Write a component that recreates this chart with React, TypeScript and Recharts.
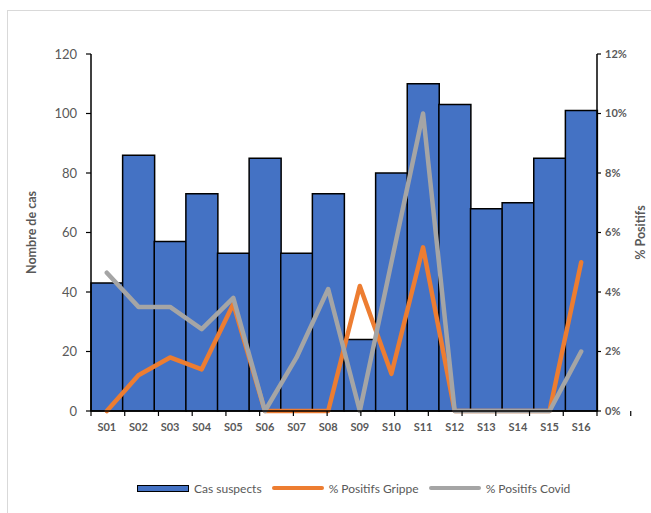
import React from 'react';
import {
  ComposedChart,
  Bar,
  Line,
  XAxis,
  YAxis,
} from 'recharts';

const weeks = ['S01', 'S02', 'S03', 'S04', 'S05', 'S06', 'S07', 'S08', 'S09', 'S10', 'S11', 'S12', 'S13', 'S14', 'S15', 'S16'];
const suspectCases = [43, 86, 57, 73, 53, 85, 53, 73, 24, 80, 110, 103, 68, 70, 85, 101];
const fluPositive = [0, 1.2, 1.8, 1.4, 3.6, 0, 0, 0, 4.2, 1.25, 5.5, 0, 0, 0, 0, 5.0];
const covidPositive = [4.65, 3.5, 3.5, 2.75, 3.8, 0, 1.8, 4.1, 0, 5.0, 10.0, 0, 0, 0, 0, 2.0];
const leftTicks = [0, 20, 40, 60, 80, 100, 120];
const rightTicks = [0, 2, 4, 6, 8, 10, 12];
const edgeTicks = weeks.map((_, i) => i).concat(weeks.length);

const BLUE = '#4472C4';
const ORANGE = '#ED7D31';
const GREY = '#A5A5A5';
const TEXT = '#595959';
const FONT = 'Lato, "Open Sans", sans-serif';

const chartData = weeks.map((week, i) => ({
  week,
  cases: suspectCases[i],
  flu: fluPositive[i],
  covid: covidPositive[i],
}));

const legendItems = [
  { label: 'Cas suspects', color: BLUE, kind: 'bar' },
  { label: '% Positifs Grippe', color: ORANGE, kind: 'line' },
  { label: '% Positifs Covid', color: GREY, kind: 'line' },
];

function AxisTitle({ viewBox, value, dx }: any) {
  const cx = viewBox.x + dx;
  const cy = viewBox.y + viewBox.height / 2;
  return (
    <text
      x={cx}
      y={cy}
      transform={`rotate(-90, ${cx}, ${cy})`}
      textAnchor="middle"
      dominantBaseline="central"
      fill={TEXT}
      fontSize={12.5}
      fontWeight="bold"
      fontFamily={FONT}
    >
      {value}
    </text>
  );
}

export default function App() {
  return (
    <div
      style={{
        position: 'absolute',
        left: 0,
        top: 0,
        width: 651,
        height: 513,
        overflow: 'hidden',
        background: '#fff',
        fontFamily: FONT,
      }}
    >
      {/* chart area frame, only top and left edges fall inside the picture */}
      <div
        style={{
          position: 'absolute',
          left: 7,
          top: 10,
          width: 700,
          height: 600,
          borderLeft: '1px solid #d9d9d9',
          borderTop: '1px solid #d9d9d9',
        }}
      />
      <div style={{ position: 'absolute', left: 0, top: 0 }}>
        <ComposedChart
          width={651}
          height={513}
          data={chartData}
          margin={{ top: 54, right: 0, bottom: 72, left: 0 }}
          barCategoryGap={0}
          barGap={0}
        >
          <XAxis
            xAxisId="b-cat"
            dataKey="week"
            height={24}
            axisLine={false}
            tickLine={false}
            tickSize={0}
            tickMargin={6}
            interval={0}
            tick={{ fill: TEXT, fontSize: 11, fontWeight: 'bold', fontFamily: FONT }}
          />
          {/* boundary ticks between weeks, as Excel draws them */}
          <XAxis
            xAxisId="a-edges"
            type="number"
            domain={[0, 16]}
            ticks={edgeTicks}
            allowDataOverflow
            height={6}
            tickSize={5}
            tickFormatter={() => ''}
            axisLine={{ stroke: '#000', strokeWidth: 1.5 }}
            tickLine={{ stroke: '#000', strokeWidth: 1.2 }}
          />
          <YAxis
            yAxisId="left"
            domain={[0, 120]}
            ticks={leftTicks}
            width={91}
            tickSize={5}
            tickMargin={9}
            axisLine={{ stroke: '#000', strokeWidth: 1.5 }}
            tickLine={{ stroke: '#000', strokeWidth: 1.2 }}
            tick={{ fill: TEXT, fontSize: 13, fontFamily: FONT }}
            label={(props: any) => <AxisTitle {...props} value="Nombre de cas" dx={31} />}
          />
          <YAxis
            yAxisId="right"
            orientation="right"
            domain={[0, 12]}
            ticks={rightTicks}
            width={54}
            tickSize={4}
            tickMargin={4}
            tickFormatter={(v) => `${v}%`}
            axisLine={{ stroke: '#000', strokeWidth: 1.5 }}
            tickLine={{ stroke: '#000', strokeWidth: 1.2 }}
            tick={{ fill: TEXT, fontSize: 11, fontWeight: 'bold', fontFamily: FONT }}
            label={(props: any) => <AxisTitle {...props} value="% Positifs" dx={43} />}
          />
          <Bar
            xAxisId="b-cat"
            yAxisId="left"
            dataKey="cases"
            name="Cas suspects"
            fill={BLUE}
            stroke="#000"
            strokeWidth={1.5}
            isAnimationActive={false}
          />
          <Line
            xAxisId="b-cat"
            yAxisId="right"
            dataKey="flu"
            name="% Positifs Grippe"
            stroke={ORANGE}
            strokeWidth={4.5}
            strokeLinejoin="round"
            strokeLinecap="round"
            dot={false}
            activeDot={false}
            isAnimationActive={false}
          />
          <Line
            xAxisId="b-cat"
            yAxisId="right"
            dataKey="covid"
            name="% Positifs Covid"
            stroke={GREY}
            strokeWidth={4.5}
            strokeLinejoin="round"
            strokeLinecap="round"
            dot={false}
            activeDot={false}
            isAnimationActive={false}
          />
        </ComposedChart>
      </div>

      {/* legend */}
      <div
        style={{
          position: 'absolute',
          left: 137,
          top: 479,
          height: 18,
          display: 'flex',
          alignItems: 'center',
          fontSize: 12,
          color: TEXT,
          whiteSpace: 'nowrap',
        }}
      >
        {legendItems.map((item) => (
          <div key={item.label} style={{ display: 'flex', alignItems: 'center', marginRight: 10 }}>
            {item.kind === 'bar' ? (
              <span
                style={{
                  display: 'inline-block',
                  width: 50,
                  height: 5,
                  background: item.color,
                  border: '1.5px solid #000',
                  marginRight: 5,
                }}
              />
            ) : (
              <span
                style={{
                  display: 'inline-block',
                  width: 52,
                  height: 4,
                  borderRadius: 2,
                  background: item.color,
                  marginRight: 5,
                }}
              />
            )}
            {item.label}
          </div>
        ))}
      </div>
    </div>
  );
}
